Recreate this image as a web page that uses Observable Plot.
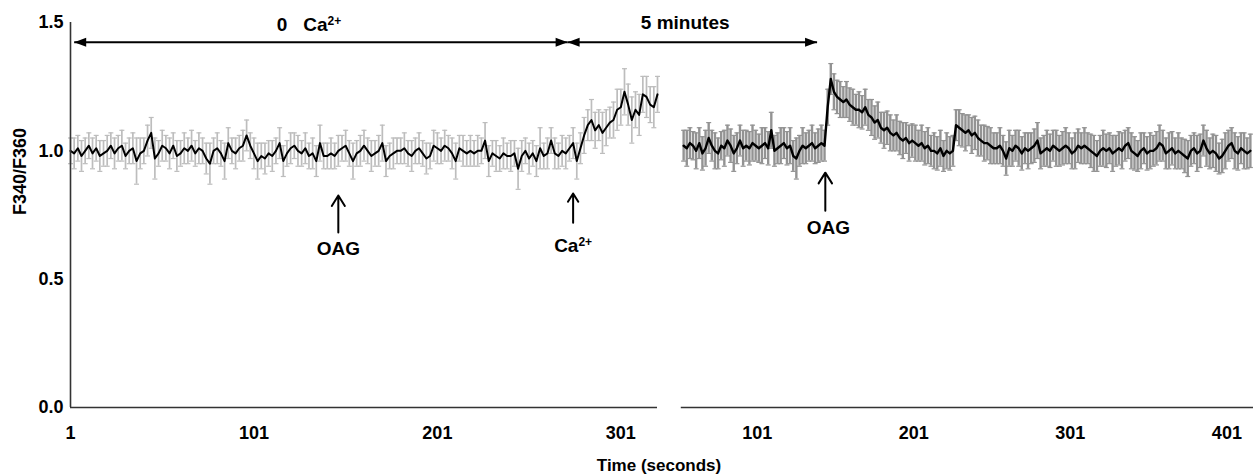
<!DOCTYPE html>
<html><head><meta charset="utf-8">
<script src="https://cdn.jsdelivr.net/npm/d3@7"></script>
<script src="https://cdn.jsdelivr.net/npm/@observablehq/plot@0.6"></script>
<style>
body{margin:0;background:#fff;font-family:"Liberation Sans",Arial,sans-serif;}
#wrap{position:relative;width:1253px;height:475px;overflow:hidden;}
#wrap svg{position:absolute;left:0;top:0;}
#xlabel{position:absolute;top:456px;left:659px;transform:translateX(-50%);font-weight:bold;font-size:17px;line-height:20px;white-space:nowrap;color:#000;}
</style></head><body>
<div id="wrap"><div id="xlabel">Time (seconds)</div></div>
<script>
// ---- data ----
const step = 2;
const leftStart = 1;   // first sample, left panel
const rightStart = 54; // first sample, right panel
const leftTicks = [1, 101, 201, 301];
const rightTicks = [101, 201, 301, 401];
const yTicks = [0, 0.5, 1.0, 1.5];

const leftMean = [
1.00,0.99,1.01,0.98,1.00,1.02,0.99,1.01,0.98,0.99,
1.00,1.02,0.99,1.01,1.02,0.98,1.00,1.01,0.96,0.99,
1.00,1.04,1.07,0.97,0.99,1.02,1.01,0.99,1.02,0.98,
0.99,1.01,1.00,1.02,0.99,1.01,1.00,0.97,0.95,1.00,
1.01,0.99,0.96,1.03,1.00,0.99,1.01,1.02,1.06,1.02,
0.99,0.96,0.98,0.97,0.99,0.98,1.00,1.03,0.96,0.99,
1.01,1.02,1.00,0.99,1.01,0.98,0.99,0.96,1.03,0.98,
0.98,0.99,0.98,1.00,1.01,1.02,0.99,0.96,0.99,1.00,
1.02,1.00,0.98,0.99,1.00,1.03,0.96,0.98,0.99,1.00,
1.00,1.01,0.99,0.98,1.00,1.01,0.99,0.97,0.98,1.02,
1.01,1.00,1.02,1.01,0.99,0.96,1.01,1.00,0.99,1.00,
0.99,1.00,1.00,1.04,0.96,0.99,0.98,0.97,0.99,0.98,
0.98,0.99,0.93,0.98,1.00,0.97,0.99,0.96,1.01,0.98,
0.99,1.04,0.99,0.98,1.00,0.99,1.01,1.03,0.96,1.01,
1.06,1.10,1.12,1.08,1.10,1.07,1.09,1.11,1.12,1.16,
1.17,1.23,1.18,1.12,1.16,1.14,1.22,1.21,1.18,1.17,
1.22];
const leftErr = [
.05,.06,.05,.06,.05,.05,.06,.05,.06,.05,
.06,.05,.06,.05,.06,.05,.05,.06,.09,.06,
.05,.06,.06,.08,.05,.06,.05,.06,.05,.06,
.05,.06,.05,.06,.05,.06,.05,.06,.08,.05,
.06,.05,.07,.06,.05,.06,.05,.06,.06,.05,
.06,.07,.05,.06,.05,.06,.05,.06,.06,.05,
.06,.05,.06,.05,.06,.05,.06,.06,.07,.05,
.05,.06,.05,.06,.05,.06,.05,.07,.05,.06,
.06,.05,.06,.05,.06,.07,.06,.05,.06,.05,
.05,.06,.05,.06,.05,.06,.05,.06,.05,.06,
.06,.05,.06,.05,.06,.07,.05,.06,.05,.06,
.05,.06,.05,.07,.06,.05,.06,.05,.06,.05,
.06,.05,.08,.06,.05,.06,.05,.06,.08,.05,
.06,.05,.06,.05,.06,.06,.05,.06,.07,.06,
.07,.06,.08,.07,.06,.08,.07,.06,.07,.08,
.07,.09,.08,.09,.07,.08,.07,.08,.07,.08,
.07];
const rightMean = [
1.02,1.01,1.03,1.02,1.00,1.03,0.99,1.01,1.05,1.02,
1.00,0.99,1.02,1.01,1.04,1.02,0.99,1.01,1.04,1.01,
1.02,1.01,1.03,1.02,1.01,1.02,1.03,1.01,1.08,1.00,
1.01,1.02,1.03,1.01,1.02,0.98,0.97,1.00,1.02,1.01,
1.02,1.03,1.01,1.02,1.03,1.02,1.17,1.28,1.23,1.21,
1.20,1.19,1.20,1.18,1.17,1.16,1.16,1.15,1.17,1.14,
1.13,1.11,1.12,1.09,1.08,1.09,1.07,1.06,1.07,1.05,
1.04,1.05,1.03,1.04,1.03,1.02,1.03,1.01,1.02,1.00,
1.00,0.99,1.01,0.98,1.00,0.99,1.00,1.10,1.09,1.08,
1.07,1.08,1.06,1.07,1.05,1.04,1.03,1.03,1.02,1.01,
1.01,1.02,1.00,0.97,1.01,1.00,1.02,1.01,0.99,1.01,
1.00,1.01,1.02,1.04,0.99,1.00,1.01,1.00,1.02,1.01,
1.00,1.01,1.02,1.01,0.99,1.00,1.02,1.01,1.02,1.01,
1.00,0.99,0.98,1.00,1.01,1.00,1.01,0.99,1.00,1.01,
1.00,1.02,1.03,1.00,0.99,0.98,1.00,1.01,0.99,1.00,
1.00,1.01,1.03,1.02,0.99,1.00,1.01,0.99,1.00,0.99,
0.98,0.97,1.00,1.01,0.99,1.00,1.04,1.01,0.99,1.00,
0.99,0.97,0.98,1.00,1.02,1.03,1.00,0.99,1.01,1.00,
0.99,1.00];
const rightErr = [
.06,.07,.06,.055,.07,.06,.065,.07,.06,.06,
.07,.06,.055,.07,.06,.065,.07,.06,.06,.07,
.06,.065,.07,.06,.055,.07,.06,.065,.07,.06,
.06,.07,.06,.065,.07,.06,.08,.06,.07,.06,
.06,.07,.06,.065,.07,.06,.07,.06,.07,.065,
.07,.06,.07,.065,.07,.06,.07,.065,.07,.06,
.07,.065,.07,.06,.07,.065,.07,.06,.07,.065,
.07,.06,.07,.065,.07,.06,.07,.065,.07,.06,
.07,.065,.07,.06,.07,.065,.06,.06,.07,.065,
.07,.06,.07,.065,.07,.06,.07,.065,.07,.06,
.06,.07,.06,.065,.07,.06,.06,.07,.065,.06,
.07,.06,.065,.07,.06,.06,.07,.065,.06,.07,
.06,.065,.07,.06,.06,.07,.065,.06,.07,.06,
.065,.07,.06,.06,.07,.065,.06,.07,.06,.065,
.07,.06,.06,.07,.065,.06,.07,.06,.065,.07,
.06,.065,.07,.06,.06,.07,.065,.06,.07,.06,
.065,.07,.06,.06,.07,.065,.06,.07,.06,.065,
.07,.06,.065,.07,.06,.06,.07,.065,.06,.07,
.06,.065];

// annotations (in data coordinates of each panel)
const leftSpan = [{a: 3, b: 272}];        // "0 Ca2+" period
const fiveMinSpan = [{a: 272, b: 408}];   // "5 minutes"
const leftAdds = [{t: 147, lo: 0.682, hi: 0.826, label: "OAG", ly: 0.619},
                  {t: 275, lo: 0.72, hi: 0.834, label: "Ca²⁺", ly: 0.631}];
const rightAdds = [{t: 144.5, lo: 0.767, hi: 0.915, label: "OAG", lx: 146.4, ly: 0.701}];

// ---- build tables ----
const leftData = leftMean.map((m, i) => ({t: leftStart + i * step, m, e: leftErr[i]}));
const rightData = rightMean.map((m, i) => ({t: rightStart + i * step, m, e: rightErr[i]}));

const W = 1253, H = 450;
const style = {fontFamily: "'Liberation Sans', Arial, sans-serif", fontSize: "18px", fontWeight: "bold",
               background: "transparent", overflow: "visible", color: "#000"};
const capSym = {draw(ctx) { ctx.moveTo(-2.5, 0); ctx.lineTo(2.5, 0); }};
const headR = {draw(ctx) { ctx.moveTo(0, 0); ctx.lineTo(-12, -4.5); ctx.lineTo(-12, 4.5); ctx.closePath(); }};
const headL = {draw(ctx) { ctx.moveTo(0, 0); ctx.lineTo(12, -4.5); ctx.lineTo(12, 4.5); ctx.closePath(); }};
const ARROW_Y = 1.423;

function errMarks(data, color, sw) {
  return [
    Plot.ruleX(data, {x: "t", y1: d => d.m - d.e, y2: d => d.m + d.e, stroke: color, strokeWidth: sw}),
    Plot.dot(data, {x: "t", y: d => d.m + d.e, symbol: capSym, stroke: color, strokeWidth: 1.2, fill: "none"}),
    Plot.dot(data, {x: "t", y: d => d.m - d.e, symbol: capSym, stroke: color, strokeWidth: 1.2, fill: "none"})
  ];
}

const leftPlot = Plot.plot({
  width: W, height: H,
  marginLeft: 70, marginRight: W - 657, marginTop: 22, marginBottom: H - 407,
  style,
  x: {domain: [1, 321], ticks: leftTicks, tickSize: 0, tickPadding: 19, label: null},
  y: {domain: [0, 1.5], ticks: yTicks, tickFormat: d3.format(".1f"), tickSize: 0, tickPadding: 7, label: null},
  marks: [
    ...errMarks(leftData, "#bdbdbd", 1.7),
    Plot.line(leftData, {x: "t", y: "m", stroke: "#000", strokeWidth: 2}),
    Plot.ruleY([0], {stroke: "#333", strokeWidth: 1.6}),
    Plot.ruleX([1], {stroke: "#333", strokeWidth: 1.6}),
    Plot.text(["F340/F360"], {text: d => d, frameAnchor: "left", dx: -50, rotate: -90, fontSize: 18, fontWeight: "bold"}),
    // spans
    Plot.link(leftSpan, {x1: "a", x2: "b", y1: () => ARROW_Y, y2: () => ARROW_Y, stroke: "#000", strokeWidth: 2}),
    Plot.link(fiveMinSpan, {x1: "a", x2: "b", y1: () => ARROW_Y, y2: () => ARROW_Y, stroke: "#000", strokeWidth: 2}),
    Plot.dot(leftSpan, {x: "a", y: () => ARROW_Y, symbol: headL, fill: "#000", stroke: "none"}),
    Plot.dot(leftSpan, {x: "b", y: () => ARROW_Y, symbol: headR, fill: "#000", stroke: "none"}),
    Plot.dot(fiveMinSpan, {x: "a", y: () => ARROW_Y, symbol: headL, fill: "#000", stroke: "none"}),
    Plot.dot(fiveMinSpan, {x: "b", y: () => ARROW_Y, symbol: headR, fill: "#000", stroke: "none"}),
    Plot.text(["0   Ca²⁺"], {text: d => d, x: () => 131, y: () => 1.492, fontSize: 19, fontWeight: "bold"}),
    // additions
    Plot.arrow(leftAdds, {x1: "t", x2: "t", y1: "lo", y2: "hi", stroke: "#000", strokeWidth: 2, headLength: 10, headAngle: 64}),
    Plot.text(leftAdds, {x: "t", y: "ly", text: "label", fontSize: 19, fontWeight: "bold"})
  ]
});

const rightPlot = Plot.plot({
  width: W, height: H,
  marginLeft: 680, marginRight: 0, marginTop: 22, marginBottom: H - 407,
  style,
  x: {domain: [52, 418], ticks: rightTicks, tickSize: 0, tickPadding: 19, label: null},
  y: {domain: [0, 1.5], axis: null},
  marks: [
    ...errMarks(rightData, "#939393", 2.4),
    Plot.line(rightData, {x: "t", y: "m", stroke: "#000", strokeWidth: 2.4}),
    Plot.ruleY([0], {x1: rightStart - 1.5, x2: 418, stroke: "#333", strokeWidth: 1.6}),
    Plot.text(["5 minutes"], {text: d => d, x: () => 55, y: () => 1.50, fontSize: 19, fontWeight: "bold"}),
    Plot.arrow(rightAdds, {x1: "t", x2: "t", y1: "lo", y2: "hi", stroke: "#000", strokeWidth: 2, headLength: 10, headAngle: 64}),
    Plot.text(rightAdds, {x: "lx", y: "ly", text: "label", fontSize: 19, fontWeight: "bold"})
  ]
});

const wrap = document.getElementById("wrap");
wrap.insertBefore(rightPlot, wrap.firstChild);
wrap.insertBefore(leftPlot, wrap.firstChild);

// render the "2+" as a proper superscript (still real text)
const NS = "http://www.w3.org/2000/svg";
wrap.querySelectorAll("text").forEach(el => {
  const s = el.textContent;
  if (!s.includes("²⁺")) return;
  const base = s.replace("²⁺", "");
  while (el.firstChild) el.removeChild(el.firstChild);
  const t1 = document.createElementNS(NS, "tspan"); t1.textContent = base;
  const t2 = document.createElementNS(NS, "tspan"); t2.textContent = "2+";
  t2.setAttribute("font-size", "12"); t2.setAttribute("dy", "-6");
  el.appendChild(t1); el.appendChild(t2);
});
</script>
</body></html>
